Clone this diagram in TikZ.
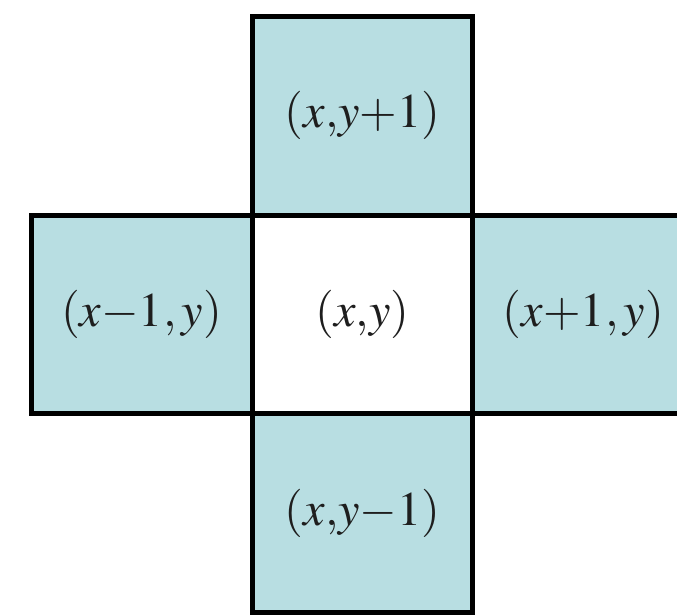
\documentclass[tikz,border=0pt]{standalone}
\usepackage{mathptmx}
\usepackage{tikz}
\usetikzlibrary{positioning}

\definecolor{cellblue}{RGB}{184,222,226}
\definecolor{labelgray}{RGB}{30,30,30}

\begin{document}
\begin{tikzpicture}[
    x=0.02cm, y=-0.02cm,
    cell/.style={
        draw, fill=cellblue,
        rectangle, line width=0.1cm,
        minimum height=3.98cm, minimum width=4.42cm,
        inner sep=0pt, outer sep=0pt,
        text=labelgray, font=\fontsize{27.5}{32}\selectfont
    },
    centre/.style={cell, fill=white},
]

\useasboundingbox (0,0) rectangle (677,615);

% Centre cell
\node[centre] (mid) at (362.5,314.5) {$(x{,}y)$};

% Neighbours around it
\node[cell, above=0pt of mid] (up) {$(x{,}y{+}1)$};
\node[cell, below=0pt of mid] (down) {$(x{,}y{-}1)$};
\node[cell, left=0pt of mid] (lft) {$(x{-}1{,}\,y)$};
\node[cell, right=0pt of mid] (rgt) {$(x{+}1{,}\,y)$};

\end{tikzpicture}
\end{document}
